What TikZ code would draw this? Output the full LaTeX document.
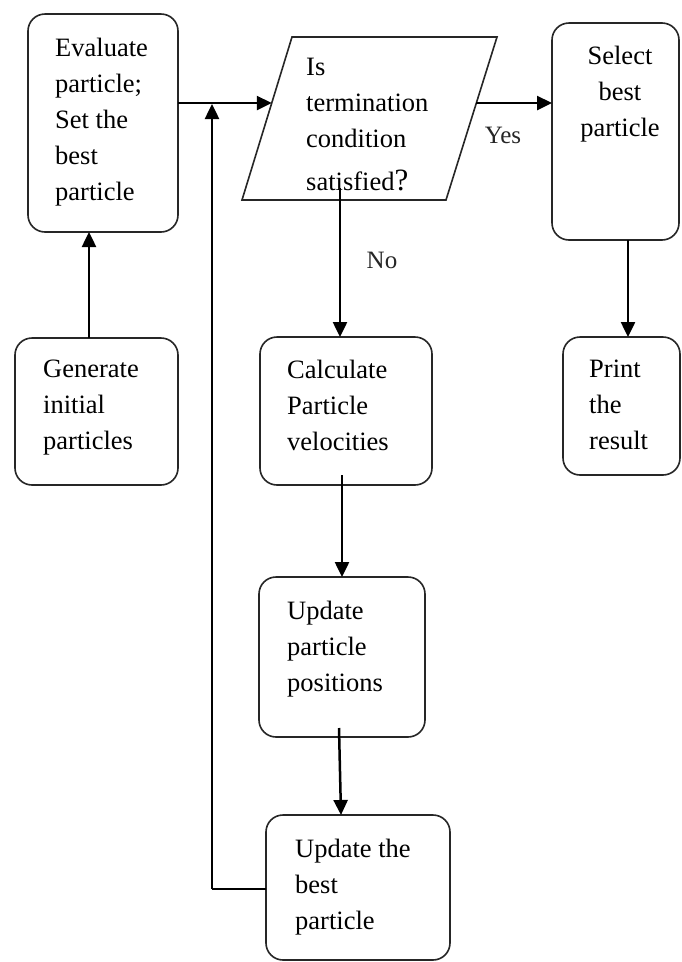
\documentclass[tikz,border=0pt]{standalone}
\usepackage{fontspec}
\setmainfont{Liberation Serif}
\usetikzlibrary{arrows.meta,calc}

\begin{document}
\begin{tikzpicture}[x=1pt,y=-1pt,
  box/.style={draw=black!85, line width=1.6pt, rounded corners=17pt,
    inner sep=0pt, outer sep=0pt},
  txt/.style={font=\fontsize{26.5}{36}\selectfont, inner sep=0pt,
    align=left, anchor=north west, text=black},
  lbl/.style={font=\fontsize{25}{30}\selectfont, inner sep=0pt, text=black!85},
  flow/.style={line width=2.5pt, -{Triangle[length=15pt,width=14pt]}},
  link/.style={line width=2.2pt},
]
\useasboundingbox (0,0) rectangle (681,962);
\fill[white] (0,0) rectangle (681,962);

% process boxes
\node[box, minimum width=150, minimum height=218] (eval)  at (103,123)   {};
\node[box, minimum width=163, minimum height=147] (gen)   at (96.5,411.5) {};
\node[box, minimum width=172, minimum height=148] (calc)  at (346,411)   {};
\node[box, minimum width=127, minimum height=217] (sel)   at (615.5,131.5) {};
\node[box, minimum width=117, minimum height=138] (print) at (621.5,406)  {};
\node[box, minimum width=166, minimum height=160] (upos)  at (342,657)   {};
\node[box, minimum width=184, minimum height=145] (ubest) at (358,887.5) {};

% decision parallelogram
\coordinate (ptl) at (292,37);
\coordinate (ptr) at (497,37);
\coordinate (pbr) at (446,200);
\coordinate (pbl) at (242,200);
\draw[line width=1.6pt, black!85] (ptl) -- (ptr) -- (pbr) -- (pbl) -- cycle;
\coordinate (pin)  at ($(pbl)!0.595!(ptl)$);
\coordinate (pout) at ($(pbr)!0.595!(ptr)$);
\coordinate (pdown) at (340,188);

% box texts
\node[txt] (teval) at (55,38) {Evaluate\\particle;\\Set the\\best\\particle};
\node[txt] (tpara) at (306,58) {Is\\termination\\condition\\[7pt]satisfied{\fontsize{31}{36}\selectfont ?}};
\node[txt, align=center, anchor=north] (tsel) at (620,46) {Select\\best\\particle};
\node[txt] (tgen)   at (43,360)  {Generate\\initial\\particles};
\node[txt] (tcalc)  at (287,360) {Calculate\\Particle\\velocities};
\node[txt] (tprint) at (589,360) {Print\\the\\result};
\node[txt] (tupos)  at (287,601) {Update\\particle\\positions};
\node[txt] (tubest) at (295,839) {Update the\\best\\particle};

% branch labels
\node[lbl] (yes) at (503,135) {Yes};
\node[lbl] (no)  at (382,260) {No};

% connectors
\draw[flow] (gen.north -| 89,0) -- (eval.south -| 89,0);
\draw[flow] (eval.east |- pin) -- (pin);
\draw[flow] (pout) -- (sel.west |- pout);
\draw[flow] (pdown) -- (calc.north -| pdown);
\draw[flow] (sel.south -| 628,0) -- (print.north -| 628,0);
\draw[flow] ($(calc.south -| 342,0)+(0,-10)$) -- (upos.north -| 342,0);
\draw[flow] ($(upos.south -| 339,0)+(0,-9)$) -- (ubest.north -| 341,0);
\coordinate (loopturn) at (212,889);
\draw[link] (ubest.west |- loopturn) -- (loopturn);
\draw[flow] (loopturn) -- (212,104);
\end{tikzpicture}
\end{document}
